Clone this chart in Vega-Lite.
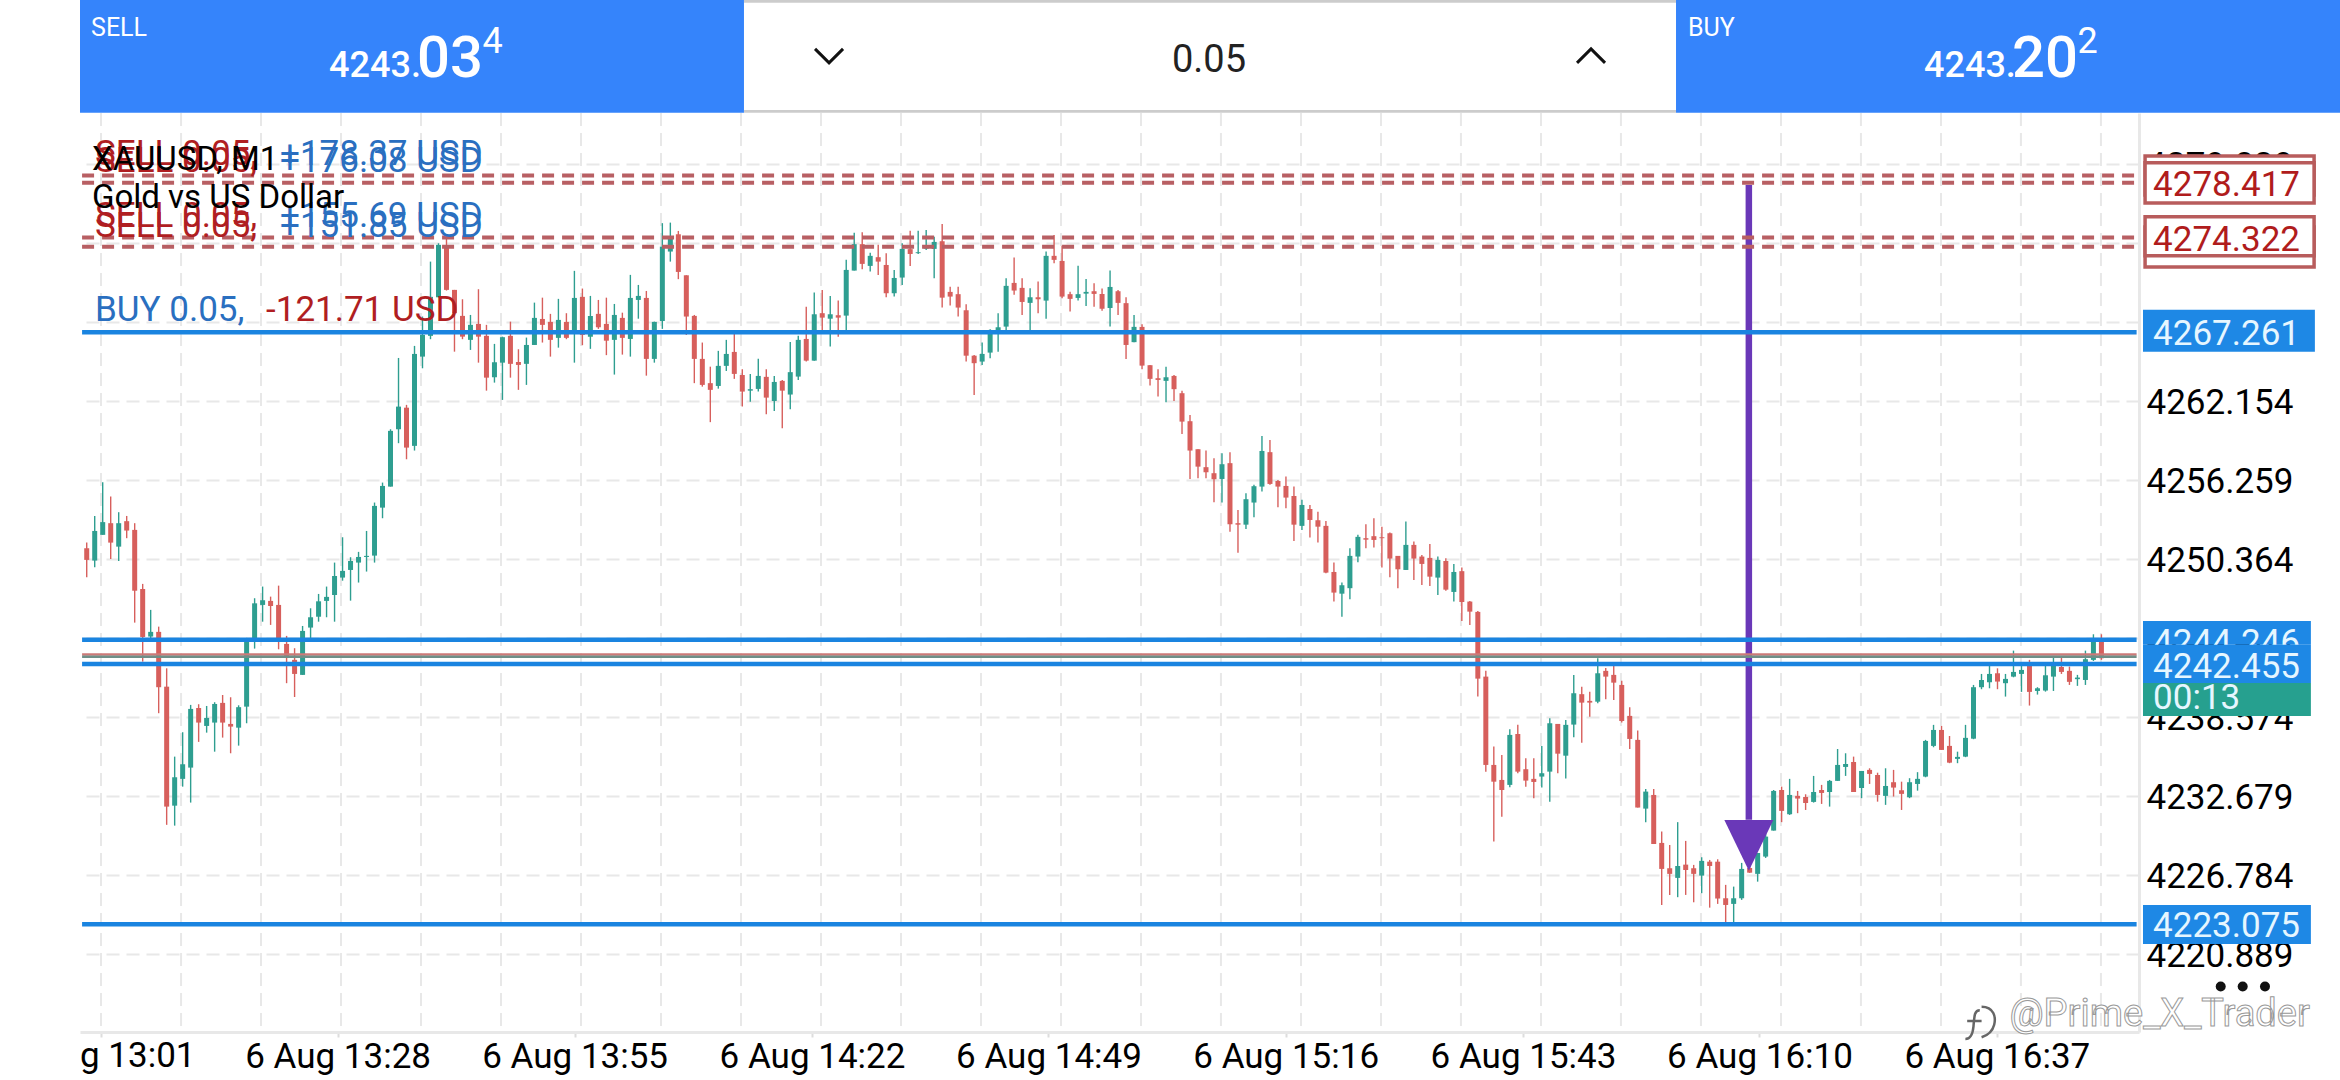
{
"$schema":"https://vega.github.io/schema/vega-lite/v6.json",
"autosize":{"type":"none"},
"padding":{"left":80,"top":113,"right":201,"bottom":48},
"width":2059,
"height":919,
"background":"#ffffff",
"config":{"view":{"stroke":null},"text":{"font":"Roboto","baseline":"alphabetic","align":"left"}},
"datasets":{
"candles":[
{"bar":0,"open":4251.14,"high":4251.56,"low":4248.98,"close":4250.27},
{"bar":1,"open":4250.22,"high":4253.55,"low":4249.72,"close":4252.43},
{"bar":2,"open":4252.14,"high":4256.07,"low":4252.14,"close":4253.09},
{"bar":3,"open":4253.01,"high":4255.0,"low":4250.34,"close":4251.56},
{"bar":4,"open":4251.26,"high":4253.83,"low":4250.19,"close":4253.01},
{"bar":5,"open":4253.16,"high":4253.55,"low":4251.89,"close":4252.46},
{"bar":6,"open":4252.51,"high":4253.01,"low":4245.59,"close":4247.97},
{"bar":7,"open":4248.10,"high":4248.48,"low":4242.68,"close":4244.52},
{"bar":8,"open":4244.55,"high":4246.54,"low":4244.40,"close":4244.90},
{"bar":9,"open":4244.90,"high":4245.29,"low":4238.83,"close":4240.77},
{"bar":10,"open":4240.81,"high":4242.18,"low":4230.50,"close":4231.86},
{"bar":11,"open":4231.93,"high":4235.59,"low":4230.44,"close":4234.05},
{"bar":12,"open":4233.93,"high":4237.41,"low":4233.35,"close":4235.02},
{"bar":13,"open":4234.77,"high":4239.45,"low":4232.16,"close":4239.15},
{"bar":14,"open":4239.22,"high":4239.50,"low":4236.69,"close":4238.13},
{"bar":15,"open":4237.88,"high":4239.37,"low":4237.38,"close":4238.48},
{"bar":16,"open":4238.13,"high":4239.65,"low":4235.96,"close":4239.52},
{"bar":17,"open":4239.60,"high":4240.19,"low":4237.01,"close":4238.13},
{"bar":18,"open":4238.03,"high":4240.02,"low":4235.84,"close":4237.83},
{"bar":19,"open":4237.75,"high":4239.42,"low":4236.41,"close":4239.28},
{"bar":20,"open":4239.32,"high":4244.45,"low":4238.08,"close":4244.30},
{"bar":21,"open":4244.35,"high":4247.41,"low":4243.65,"close":4247.03},
{"bar":22,"open":4246.91,"high":4248.28,"low":4245.66,"close":4247.26},
{"bar":23,"open":4247.21,"high":4247.53,"low":4245.42,"close":4246.83},
{"bar":24,"open":4246.91,"high":4248.35,"low":4243.60,"close":4244.43},
{"bar":25,"open":4244.0,"high":4244.60,"low":4241.07,"close":4243.05},
{"bar":26,"open":4242.81,"high":4243.68,"low":4240.04,"close":4241.76},
{"bar":27,"open":4241.69,"high":4245.34,"low":4241.69,"close":4244.97},
{"bar":28,"open":4245.22,"high":4246.66,"low":4244.43,"close":4245.99},
{"bar":29,"open":4246.03,"high":4247.73,"low":4245.66,"close":4247.18},
{"bar":30,"open":4247.21,"high":4248.28,"low":4245.99,"close":4247.51},
{"bar":31,"open":4247.66,"high":4250.07,"low":4245.66,"close":4249.07},
{"bar":32,"open":4248.95,"high":4251.96,"low":4248.72,"close":4249.45},
{"bar":33,"open":4249.52,"high":4250.47,"low":4247.23,"close":4250.19},
{"bar":34,"open":4250.07,"high":4250.87,"low":4248.58,"close":4250.49},
{"bar":35,"open":4250.49,"high":4252.43,"low":4249.40,"close":4250.57},
{"bar":36,"open":4250.59,"high":4254.55,"low":4250.07,"close":4254.30},
{"bar":37,"open":4254.17,"high":4256.04,"low":4253.38,"close":4255.79},
{"bar":38,"open":4255.74,"high":4260.02,"low":4255.74,"close":4259.90},
{"bar":39,"open":4260.02,"high":4265.34,"low":4258.98,"close":4261.71},
{"bar":40,"open":4261.63,"high":4261.84,"low":4257.78,"close":4258.65},
{"bar":41,"open":4258.78,"high":4266.24,"low":4258.43,"close":4265.64},
{"bar":42,"open":4265.44,"high":4268.43,"low":4264.57,"close":4267.06},
{"bar":43,"open":4266.99,"high":4272.53,"low":4266.74,"close":4269.90},
{"bar":44,"open":4269.87,"high":4273.90,"low":4269.87,"close":4273.78},
{"bar":45,"open":4273.70,"high":4274.28,"low":4270.37,"close":4270.42},
{"bar":46,"open":4270.42,"high":4270.42,"low":4265.81,"close":4268.68},
{"bar":47,"open":4268.48,"high":4269.72,"low":4266.74,"close":4266.93},
{"bar":48,"open":4266.69,"high":4268.55,"low":4265.94,"close":4267.81},
{"bar":49,"open":4267.88,"high":4270.47,"low":4264.99,"close":4266.93},
{"bar":50,"open":4266.99,"high":4267.81,"low":4262.90,"close":4263.87},
{"bar":51,"open":4263.90,"high":4266.39,"low":4263.50,"close":4265.02},
{"bar":52,"open":4264.99,"high":4266.93,"low":4262.21,"close":4266.89},
{"bar":53,"open":4266.99,"high":4268.05,"low":4263.87,"close":4264.90},
{"bar":54,"open":4265.04,"high":4265.99,"low":4262.96,"close":4264.82},
{"bar":55,"open":4264.90,"high":4266.86,"low":4263.33,"close":4266.31},
{"bar":56,"open":4266.31,"high":4269.47,"low":4266.31,"close":4268.33},
{"bar":57,"open":4268.25,"high":4269.84,"low":4266.49,"close":4267.81},
{"bar":58,"open":4268.03,"high":4268.63,"low":4265.44,"close":4266.69},
{"bar":59,"open":4266.84,"high":4269.75,"low":4266.11,"close":4268.18},
{"bar":60,"open":4268.03,"high":4268.68,"low":4266.74,"close":4266.84},
{"bar":61,"open":4267.19,"high":4271.84,"low":4264.99,"close":4269.82},
{"bar":62,"open":4269.90,"high":4270.52,"low":4266.29,"close":4267.06},
{"bar":63,"open":4266.93,"high":4269.97,"low":4266.02,"close":4268.48},
{"bar":64,"open":4268.63,"high":4269.67,"low":4267.51,"close":4267.63},
{"bar":65,"open":4267.88,"high":4269.84,"low":4265.55,"close":4266.63},
{"bar":66,"open":4266.69,"high":4269.37,"low":4264.10,"close":4268.55},
{"bar":67,"open":4268.33,"high":4268.72,"low":4265.59,"close":4266.84},
{"bar":68,"open":4266.76,"high":4271.54,"low":4265.44,"close":4269.82},
{"bar":69,"open":4269.67,"high":4270.79,"low":4268.27,"close":4269.97},
{"bar":70,"open":4269.82,"high":4270.34,"low":4264.02,"close":4265.27},
{"bar":71,"open":4265.27,"high":4268.05,"low":4264.99,"close":4268.03},
{"bar":72,"open":4268.10,"high":4275.40,"low":4267.51,"close":4273.65},
{"bar":73,"open":4273.28,"high":4275.44,"low":4272.53,"close":4274.22},
{"bar":74,"open":4274.57,"high":4274.82,"low":4271.22,"close":4271.76},
{"bar":75,"open":4271.51,"high":4271.51,"low":4267.06,"close":4268.43},
{"bar":76,"open":4268.48,"high":4268.55,"low":4263.46,"close":4265.27},
{"bar":77,"open":4265.27,"high":4266.49,"low":4263.20,"close":4263.33},
{"bar":78,"open":4263.46,"high":4264.69,"low":4260.55,"close":4262.96},
{"bar":79,"open":4263.25,"high":4265.87,"low":4263.05,"close":4264.75},
{"bar":80,"open":4264.75,"high":4266.69,"low":4264.37,"close":4265.64},
{"bar":81,"open":4265.79,"high":4267.13,"low":4263.78,"close":4264.15},
{"bar":82,"open":4264.07,"high":4264.50,"low":4261.71,"close":4262.83},
{"bar":83,"open":4262.90,"high":4264.15,"low":4262.08,"close":4263.01},
{"bar":84,"open":4263.03,"high":4265.29,"low":4262.83,"close":4264.0},
{"bar":85,"open":4263.93,"high":4264.50,"low":4261.14,"close":4262.38},
{"bar":86,"open":4262.13,"high":4264.0,"low":4261.39,"close":4263.55},
{"bar":87,"open":4263.63,"high":4263.70,"low":4260.10,"close":4262.90},
{"bar":88,"open":4262.61,"high":4266.54,"low":4261.52,"close":4264.28},
{"bar":89,"open":4263.95,"high":4266.99,"low":4263.70,"close":4266.69},
{"bar":90,"open":4266.76,"high":4269.17,"low":4265.07,"close":4265.14},
{"bar":91,"open":4265.14,"high":4270.22,"low":4265.14,"close":4268.60},
{"bar":92,"open":4268.68,"high":4270.42,"low":4267.21,"close":4268.35},
{"bar":93,"open":4268.27,"high":4269.97,"low":4266.19,"close":4268.60},
{"bar":94,"open":4268.53,"high":4269.62,"low":4266.93,"close":4268.35},
{"bar":95,"open":4268.50,"high":4272.66,"low":4267.43,"close":4271.91},
{"bar":96,"open":4271.86,"high":4274.69,"low":4271.86,"close":4273.83},
{"bar":97,"open":4273.83,"high":4274.72,"low":4271.96,"close":4272.36},
{"bar":98,"open":4272.21,"high":4273.20,"low":4271.79,"close":4272.96},
{"bar":99,"open":4272.86,"high":4273.78,"low":4271.54,"close":4272.53},
{"bar":100,"open":4272.28,"high":4273.16,"low":4269.87,"close":4270.17},
{"bar":101,"open":4270.17,"high":4271.91,"low":4269.92,"close":4271.31},
{"bar":102,"open":4271.34,"high":4273.90,"low":4270.79,"close":4273.48},
{"bar":103,"open":4273.46,"high":4274.84,"low":4272.21,"close":4273.10},
{"bar":104,"open":4273.16,"high":4274.84,"low":4273.10,"close":4273.23},
{"bar":105,"open":4273.50,"high":4274.89,"low":4273.40,"close":4273.60},
{"bar":106,"open":4273.48,"high":4274.39,"low":4271.29,"close":4274.0},
{"bar":107,"open":4274.05,"high":4275.34,"low":4269.10,"close":4269.84},
{"bar":108,"open":4270.27,"high":4270.66,"low":4269.25,"close":4269.92},
{"bar":109,"open":4270.10,"high":4270.66,"low":4268.43,"close":4269.10},
{"bar":110,"open":4268.90,"high":4269.35,"low":4265.07,"close":4265.51},
{"bar":111,"open":4265.51,"high":4265.57,"low":4262.58,"close":4264.95},
{"bar":112,"open":4265.07,"high":4266.49,"low":4264.82,"close":4265.64},
{"bar":113,"open":4265.74,"high":4267.49,"low":4265.32,"close":4267.43},
{"bar":114,"open":4267.13,"high":4268.68,"low":4265.81,"close":4267.63},
{"bar":115,"open":4267.68,"high":4271.29,"low":4267.43,"close":4270.72},
{"bar":116,"open":4270.94,"high":4272.83,"low":4270.05,"close":4270.37},
{"bar":117,"open":4270.57,"high":4271.29,"low":4268.55,"close":4269.52},
{"bar":118,"open":4269.45,"high":4270.55,"low":4267.43,"close":4269.87},
{"bar":119,"open":4269.87,"high":4271.04,"low":4268.68,"close":4269.72},
{"bar":120,"open":4269.62,"high":4273.28,"low":4268.27,"close":4272.96},
{"bar":121,"open":4272.96,"high":4274.52,"low":4272.41,"close":4272.66},
{"bar":122,"open":4272.58,"high":4273.72,"low":4269.80,"close":4269.92},
{"bar":123,"open":4270.10,"high":4270.29,"low":4268.80,"close":4269.75},
{"bar":124,"open":4269.82,"high":4272.23,"low":4269.62,"close":4270.10},
{"bar":125,"open":4270.14,"high":4271.24,"low":4269.22,"close":4270.27},
{"bar":126,"open":4270.32,"high":4270.92,"low":4269.17,"close":4270.12},
{"bar":127,"open":4270.12,"high":4270.52,"low":4268.87,"close":4269.02},
{"bar":128,"open":4269.07,"high":4271.86,"low":4267.68,"close":4270.64},
{"bar":129,"open":4270.32,"high":4270.42,"low":4268.55,"close":4269.45},
{"bar":130,"open":4269.43,"high":4269.87,"low":4265.27,"close":4266.31},
{"bar":131,"open":4266.52,"high":4268.55,"low":4266.52,"close":4267.66},
{"bar":132,"open":4267.66,"high":4267.86,"low":4264.50,"close":4264.77},
{"bar":133,"open":4264.80,"high":4264.82,"low":4263.28,"close":4263.78},
{"bar":134,"open":4263.83,"high":4264.50,"low":4262.46,"close":4263.70},
{"bar":135,"open":4263.63,"high":4264.69,"low":4262.04,"close":4263.90},
{"bar":136,"open":4264.0,"high":4264.07,"low":4262.13,"close":4263.01},
{"bar":137,"open":4262.71,"high":4262.90,"low":4259.67,"close":4260.59},
{"bar":138,"open":4260.62,"high":4261.09,"low":4256.31,"close":4258.43},
{"bar":139,"open":4258.53,"high":4258.53,"low":4256.36,"close":4257.23},
{"bar":140,"open":4257.19,"high":4258.43,"low":4256.36,"close":4256.81},
{"bar":141,"open":4256.74,"high":4257.86,"low":4254.57,"close":4256.29},
{"bar":142,"open":4256.31,"high":4258.23,"low":4254.55,"close":4257.41},
{"bar":143,"open":4257.49,"high":4258.31,"low":4252.38,"close":4252.93},
{"bar":144,"open":4253.01,"high":4254.0,"low":4250.81,"close":4252.90},
{"bar":145,"open":4252.90,"high":4255.25,"low":4252.58,"close":4254.80},
{"bar":146,"open":4254.55,"high":4255.87,"low":4253.46,"close":4255.77},
{"bar":147,"open":4255.74,"high":4259.52,"low":4255.37,"close":4258.40},
{"bar":148,"open":4258.31,"high":4259.22,"low":4255.87,"close":4255.94},
{"bar":149,"open":4256.16,"high":4256.24,"low":4254.20,"close":4255.74},
{"bar":150,"open":4255.79,"high":4256.49,"low":4254.13,"close":4254.92},
{"bar":151,"open":4255.04,"high":4255.74,"low":4251.69,"close":4252.90},
{"bar":152,"open":4252.81,"high":4254.75,"low":4252.51,"close":4254.37},
{"bar":153,"open":4254.07,"high":4254.37,"low":4251.94,"close":4253.25},
{"bar":154,"open":4253.23,"high":4253.87,"low":4251.56,"close":4252.75},
{"bar":155,"open":4252.81,"high":4253.18,"low":4249.28,"close":4249.32},
{"bar":156,"open":4249.37,"high":4250.07,"low":4247.16,"close":4247.83},
{"bar":157,"open":4247.75,"high":4248.58,"low":4246.03,"close":4248.38},
{"bar":158,"open":4248.16,"high":4251.14,"low":4247.34,"close":4250.57},
{"bar":159,"open":4250.52,"high":4252.14,"low":4250.10,"close":4251.99},
{"bar":160,"open":4251.89,"high":4252.93,"low":4251.14,"close":4251.78},
{"bar":161,"open":4252.04,"high":4253.38,"low":4251.19,"close":4251.76},
{"bar":162,"open":4251.96,"high":4252.75,"low":4249.70,"close":4251.89},
{"bar":163,"open":4252.26,"high":4252.31,"low":4248.98,"close":4250.37},
{"bar":164,"open":4250.57,"high":4250.57,"low":4248.16,"close":4249.57},
{"bar":165,"open":4249.52,"high":4253.13,"low":4249.52,"close":4251.39},
{"bar":166,"open":4251.39,"high":4251.64,"low":4248.77,"close":4250.37},
{"bar":167,"open":4250.52,"high":4250.64,"low":4248.40,"close":4249.97},
{"bar":168,"open":4250.42,"high":4251.46,"low":4248.33,"close":4249.02},
{"bar":169,"open":4248.95,"high":4250.52,"low":4247.66,"close":4250.27},
{"bar":170,"open":4250.19,"high":4250.39,"low":4247.97,"close":4248.05},
{"bar":171,"open":4247.88,"high":4249.97,"low":4247.16,"close":4249.37},
{"bar":172,"open":4249.43,"high":4249.70,"low":4245.72,"close":4247.13},
{"bar":173,"open":4247.16,"high":4247.21,"low":4245.42,"close":4246.41},
{"bar":174,"open":4246.39,"high":4246.46,"low":4240.07,"close":4241.41},
{"bar":175,"open":4241.56,"high":4241.99,"low":4234.47,"close":4234.97},
{"bar":176,"open":4234.97,"high":4236.34,"low":4229.25,"close":4233.72},
{"bar":177,"open":4233.85,"high":4235.72,"low":4231.11,"close":4233.10},
{"bar":178,"open":4233.48,"high":4237.63,"low":4233.31,"close":4237.21},
{"bar":179,"open":4237.28,"high":4237.96,"low":4234.35,"close":4234.47},
{"bar":180,"open":4234.65,"high":4235.47,"low":4233.35,"close":4233.80},
{"bar":181,"open":4233.93,"high":4235.47,"low":4232.49,"close":4233.70},
{"bar":182,"open":4234.10,"high":4236.39,"low":4233.28,"close":4234.35},
{"bar":183,"open":4234.47,"high":4238.45,"low":4232.23,"close":4238.08},
{"bar":184,"open":4238.03,"high":4238.03,"low":4234.35,"close":4235.81},
{"bar":185,"open":4235.66,"high":4238.33,"low":4233.95,"close":4237.96},
{"bar":186,"open":4237.98,"high":4241.69,"low":4237.04,"close":4240.32},
{"bar":187,"open":4240.25,"high":4240.81,"low":4236.63,"close":4239.62},
{"bar":188,"open":4239.75,"high":4240.44,"low":4238.57,"close":4239.62},
{"bar":189,"open":4239.69,"high":4242.93,"low":4239.57,"close":4241.81},
{"bar":190,"open":4241.99,"high":4242.21,"low":4239.87,"close":4241.56},
{"bar":191,"open":4241.69,"high":4242.43,"low":4239.82,"close":4241.11},
{"bar":192,"open":4240.94,"high":4241.26,"low":4238.13,"close":4238.25},
{"bar":193,"open":4238.63,"high":4239.28,"low":4236.16,"close":4236.91},
{"bar":194,"open":4236.84,"high":4237.53,"low":4231.79,"close":4231.79},
{"bar":195,"open":4231.71,"high":4233.18,"low":4230.70,"close":4232.98},
{"bar":196,"open":4232.73,"high":4233.18,"low":4229.07,"close":4229.07},
{"bar":197,"open":4229.15,"high":4230.0,"low":4224.52,"close":4227.21},
{"bar":198,"open":4227.26,"high":4229.0,"low":4225.27,"close":4226.84},
{"bar":199,"open":4226.54,"high":4230.70,"low":4225.10,"close":4227.43},
{"bar":200,"open":4227.53,"high":4229.30,"low":4225.27,"close":4227.13},
{"bar":201,"open":4227.26,"high":4227.51,"low":4224.72,"close":4226.84},
{"bar":202,"open":4226.71,"high":4228.08,"low":4225.40,"close":4227.81},
{"bar":203,"open":4227.75,"high":4227.88,"low":4224.32,"close":4227.43},
{"bar":204,"open":4227.75,"high":4227.93,"low":4224.60,"close":4225.0},
{"bar":205,"open":4225.02,"high":4226.02,"low":4223.20,"close":4224.52},
{"bar":206,"open":4224.60,"high":4225.89,"low":4223.20,"close":4225.02},
{"bar":207,"open":4225.02,"high":4227.66,"low":4224.90,"close":4227.21},
{"bar":208,"open":4227.28,"high":4227.88,"low":4226.91,"close":4226.93},
{"bar":209,"open":4226.84,"high":4228.40,"low":4226.26,"close":4228.40},
{"bar":210,"open":4228.13,"high":4230.12,"low":4228.03,"close":4229.62},
{"bar":211,"open":4230.07,"high":4233.10,"low":4230.07,"close":4233.03},
{"bar":212,"open":4233.10,"high":4233.35,"low":4230.70,"close":4231.54},
{"bar":213,"open":4231.29,"high":4233.93,"low":4231.24,"close":4232.73},
{"bar":214,"open":4232.66,"high":4233.03,"low":4231.37,"close":4232.46},
{"bar":215,"open":4232.58,"high":4232.78,"low":4231.61,"close":4232.13},
{"bar":216,"open":4232.21,"high":4234.15,"low":4232.16,"close":4232.95},
{"bar":217,"open":4233.10,"high":4233.48,"low":4232.06,"close":4232.88},
{"bar":218,"open":4232.95,"high":4233.85,"low":4231.86,"close":4233.78},
{"bar":219,"open":4233.78,"high":4236.16,"low":4233.78,"close":4234.97},
{"bar":220,"open":4234.82,"high":4235.84,"low":4234.15,"close":4235.04},
{"bar":221,"open":4235.19,"high":4235.59,"low":4232.95,"close":4232.95},
{"bar":222,"open":4233.25,"high":4234.52,"low":4232.49,"close":4234.52},
{"bar":223,"open":4234.60,"high":4234.72,"low":4233.55,"close":4234.30},
{"bar":224,"open":4234.22,"high":4234.39,"low":4232.23,"close":4232.73},
{"bar":225,"open":4232.66,"high":4234.72,"low":4231.99,"close":4233.40},
{"bar":226,"open":4233.68,"high":4234.60,"low":4232.61,"close":4233.28},
{"bar":227,"open":4233.08,"high":4233.72,"low":4231.61,"close":4232.81},
{"bar":228,"open":4232.56,"high":4233.98,"low":4232.49,"close":4233.68},
{"bar":229,"open":4233.55,"high":4234.43,"low":4233.05,"close":4233.93},
{"bar":230,"open":4234.10,"high":4236.84,"low":4234.05,"close":4236.76},
{"bar":231,"open":4236.39,"high":4237.96,"low":4236.29,"close":4237.58},
{"bar":232,"open":4237.58,"high":4237.88,"low":4236.09,"close":4236.09},
{"bar":233,"open":4236.39,"high":4237.13,"low":4235.10,"close":4235.14},
{"bar":234,"open":4235.42,"high":4235.96,"low":4235.10,"close":4235.57},
{"bar":235,"open":4235.59,"high":4237.96,"low":4235.55,"close":4236.99},
{"bar":236,"open":4236.93,"high":4240.94,"low":4236.89,"close":4240.77},
{"bar":237,"open":4240.77,"high":4241.76,"low":4240.62,"close":4241.31},
{"bar":238,"open":4241.14,"high":4242.36,"low":4240.69,"close":4241.76},
{"bar":239,"open":4241.81,"high":4242.18,"low":4240.62,"close":4241.19},
{"bar":240,"open":4241.07,"high":4241.76,"low":4240.07,"close":4241.39},
{"bar":241,"open":4241.56,"high":4243.50,"low":4241.51,"close":4241.91},
{"bar":242,"open":4241.76,"high":4242.43,"low":4240.42,"close":4242.06},
{"bar":243,"open":4242.36,"high":4242.81,"low":4239.40,"close":4240.42},
{"bar":244,"open":4240.49,"high":4240.77,"low":4240.22,"close":4240.69},
{"bar":245,"open":4240.52,"high":4242.43,"low":4240.44,"close":4241.66},
{"bar":246,"open":4241.56,"high":4243.05,"low":4240.49,"close":4242.43},
{"bar":247,"open":4242.28,"high":4243.05,"low":4241.76,"close":4241.91},
{"bar":248,"open":4241.99,"high":4242.31,"low":4240.94,"close":4241.17},
{"bar":249,"open":4241.37,"high":4241.69,"low":4240.87,"close":4241.49},
{"bar":250,"open":4241.31,"high":4243.50,"low":4240.94,"close":4242.86},
{"bar":251,"open":4242.81,"high":4244.72,"low":4242.73,"close":4244.20},
{"bar":252,"open":4244.15,"high":4244.72,"low":4242.81,"close":4242.93}
],
"vgrid":[{"bar":1.79},{"bar":11.8},{"bar":21.8},{"bar":31.81},{"bar":41.81},{"bar":51.82},{"bar":61.83},{"bar":71.83},{"bar":81.84},{"bar":91.84},{"bar":101.85},{"bar":111.86},{"bar":121.86},{"bar":131.87},{"bar":141.87},{"bar":151.88},{"bar":161.89},{"bar":171.89},{"bar":181.9},{"bar":191.9},{"bar":201.91},{"bar":211.92},{"bar":221.92},{"bar":231.93},{"bar":241.93},{"bar":251.94}]
},
"encoding":{
"x":{"field":"bar","type":"quantitative","title":null,"scale":{"domain":[-0.84,256.7],"nice":false,"zero":false,"padding":0},
"axis":{"title":null,"grid":false,"values":[1.75,31.38,61.03,90.72,120.3,149.97,179.65,209.23,238.92],
"labelExpr":"['','6 Aug 13:28','6 Aug 13:55','6 Aug 14:22','6 Aug 14:49','6 Aug 15:16','6 Aug 15:43','6 Aug 16:10','6 Aug 16:37'][indexof([1.75,31.38,61.03,90.72,120.3,149.97,179.65,209.23,238.92],datum.value)]",
"labelFont":"Roboto","labelFontSize":35,"labelColor":"#000000","labelPadding":2,"labelLimit":400,"labelOverlap":false,"labelFlush":false,
"tickColor":"#dddddd","tickSize":5,"tickWidth":2,"domainColor":"#e8e8e8","domainWidth":3}}
},
"layer":[
{"data":{"name":"vgrid"},"mark":{"type":"rule","color":"#e8e8e8","strokeWidth":2,"strokeDash":[13,7]},"encoding":{}},
{"data":{"name":"candles"},"mark":{"type":"rule","strokeWidth":1.4},
"encoding":{"y":{"field":"high","type":"quantitative","title":null,"scale":{"domain":[4215.04,4283.62],"nice":false,"zero":false},
"axis":{"title":null,"orient":"right","values":[4220.889,4226.784,4232.679,4238.574,4244.469,4250.364,4256.259,4262.154,4268.049,4273.944,4279.839],"format":".3f","grid":true,"gridColor":"#e8e8e8","gridWidth":2,"gridDash":[13,7],"ticks":false,"labelFont":"Roboto","labelFontSize":35,"labelColor":"#000000","labelPadding":7,"labelOffset":2,"labelOverlap":false,"domainColor":"#e8e8e8","domainWidth":3}},
"y2":{"field":"low"},
"color":{"condition":{"test":"datum.open < datum.close","value":"#2e9e90"},"value":"#d75f5c"}}},
{"data":{"name":"candles"},"mark":{"type":"bar","size":5,"orient":"vertical"},
"encoding":{"y":{"field":"open","type":"quantitative","title":null},"y2":{"field":"close"},
"color":{"condition":{"test":"datum.open < datum.close","value":"#2e9e90"},"value":"#d75f5c"}}},
{"data":{"values":[{"bar":207.9,"price":4278.25,"price2":4230.87}]},"mark":{"type":"rule","color":"#6a38b8","strokeWidth":6.5},
"encoding":{"y":{"field":"price","type":"quantitative","title":null},"y2":{"field":"price2"}}},
{"data":{"values":[{"bar":207.9,"price":4229.04}]},"mark":{"type":"point","shape":"M-1,-1L1,-1L0,1.08Z","filled":true,"size":2401,"color":"#6a38b8","opacity":1,"strokeWidth":0},
"encoding":{"y":{"field":"price","type":"quantitative","title":null}}},
{"data":{"values":[{"bar":-0.58,"bar2":256.4,"price":4278.96},{"bar":-0.58,"bar2":256.4,"price":4278.417},{"bar":-0.58,"bar2":256.4,"price":4274.322},{"bar":-0.58,"bar2":256.4,"price":4273.63}]},"mark":{"type":"rule","color":"#b85f63","strokeWidth":4,"strokeDash":[12,8]},
"encoding":{"x2":{"field":"bar2"},"y":{"field":"price","type":"quantitative","title":null}}},
{"data":{"values":[{"bar":-0.58,"bar2":256.4,"price":4243.202}]},"mark":{"type":"rule","color":"#cc7a78","strokeWidth":2.5},
"encoding":{"x2":{"field":"bar2"},"y":{"field":"price","type":"quantitative","title":null}}},
{"data":{"values":[{"bar":-0.58,"bar2":256.4,"price":4243.034}]},"mark":{"type":"rule","color":"#6f8f88","strokeWidth":2.5},
"encoding":{"x2":{"field":"bar2"},"y":{"field":"price","type":"quantitative","title":null}}},
{"data":{"values":[{"bar":-0.58,"bar2":256.4,"price":4267.261},{"bar":-0.58,"bar2":256.4,"price":4244.32},{"bar":-0.58,"bar2":256.4,"price":4242.5},{"bar":-0.58,"bar2":256.4,"price":4223.075}]},"mark":{"type":"rule","color":"#1a84e0","strokeWidth":4.5},
"encoding":{"x2":{"field":"bar2"},"y":{"field":"price","type":"quantitative","title":null}}},
{"data":{"values":[{"bar":-0.84,"bar2":82.21,"price":4292.06,"price2":4283.63},{"bar":198.79,"bar2":281.85,"price":4292.06,"price2":4283.63}]},"mark":{"type":"rect","color":"#3584fb"},
"encoding":{"x2":{"field":"bar2"},"y":{"field":"price","type":"quantitative","title":null},"y2":{"field":"price2"}}},
{"data":{"values":[{"bar":82.21,"bar2":198.79,"price":4292.06,"price2":4291.84},{"bar":82.21,"bar2":198.79,"price":4283.85,"price2":4283.63}]},"mark":{"type":"rect","color":"#cccccc"},
"encoding":{"x2":{"field":"bar2"},"y":{"field":"price","type":"quantitative","title":null},"y2":{"field":"price2"}}},
{"data":{"values":[{"bar":0.54,"price":4289.37,"label":"SELL"},{"bar":200.29,"price":4289.37,"label":"BUY"}]},"mark":{"type":"text","fontSize":25,"color":"#ffffff"},
"encoding":{"y":{"field":"price","type":"quantitative","title":null},"text":{"field":"label"}}},
{"data":{"values":[{"bar":30.31,"price":4286.31,"label":"4243."},{"bar":229.81,"price":4286.31,"label":"4243."}]},"mark":{"type":"text","fontSize":36,"fontWeight":500,"color":"#ffffff"},
"encoding":{"y":{"field":"price","type":"quantitative","title":null},"text":{"field":"label"}}},
{"data":{"values":[{"bar":41.32,"price":4286.31,"label":"03"},{"bar":240.81,"price":4286.31,"label":"20"}]},"mark":{"type":"text","fontSize":58,"fontWeight":500,"color":"#ffffff"},
"encoding":{"y":{"field":"price","type":"quantitative","title":null},"text":{"field":"label"}}},
{"data":{"values":[{"bar":49.5,"price":4288.1,"label":"4"},{"bar":249,"price":4288.1,"label":"2"}]},"mark":{"type":"text","fontSize":36,"color":"#ffffff"},
"encoding":{"y":{"field":"price","type":"quantitative","title":null},"text":{"field":"label"}}},
{"data":{"values":[{"bar":140.38,"price":4287.73,"label":"0.05"}]},"mark":{"type":"text","fontSize":38,"align":"center","baseline":"middle","dy":3,"color":"#222222"},
"encoding":{"y":{"field":"price","type":"quantitative","title":null},"text":{"field":"label"}}},
{"data":{"values":[{"bar":92.85,"price":4287.88}]},"mark":{"type":"point","shape":"M-1,-0.5L0,0.5L1,-0.5","filled":false,"size":784,"color":"#111111","opacity":1,"strokeWidth":3},
"encoding":{"y":{"field":"price","type":"quantitative","title":null}}},
{"data":{"values":[{"bar":188.16,"price":4287.88}]},"mark":{"type":"point","shape":"M-1,0.5L0,-0.5L1,0.5","filled":false,"size":784,"color":"#111111","opacity":1,"strokeWidth":3},
"encoding":{"y":{"field":"price","type":"quantitative","title":null}}},
{"data":{"values":[{"bar":1.04,"price":4279.75,"label":"SELL 0.05,"},{"bar":1.04,"price":4279.19,"label":"SELL 0.05,"},{"bar":1.04,"price":4275.08,"label":"SELL 0.05,"},{"bar":1.04,"price":4274.4,"label":"SELL 0.05,"},{"bar":22.43,"price":4268.1,"label":"-121.71 USD"}]},"mark":{"type":"text","fontSize":35,"color":"#b01e22"},
"encoding":{"y":{"field":"price","type":"quantitative","title":null},"text":{"field":"label"}}},
{"data":{"values":[{"bar":24.18,"price":4279.75,"label":"+178.37 USD"},{"bar":24.18,"price":4279.19,"label":"+176.08 USD"},{"bar":24.18,"price":4275.08,"label":"+155.69 USD"},{"bar":24.18,"price":4274.4,"label":"+151.85 USD"},{"bar":1.04,"price":4268.1,"label":"BUY 0.05,"}]},"mark":{"type":"text","fontSize":35,"color":"#2a6fc0"},
"encoding":{"y":{"field":"price","type":"quantitative","title":null},"text":{"field":"label"}}},
{"data":{"values":[{"bar":0.66,"price":4279.37,"label":"XAUUSD, M1"},{"bar":0.66,"price":4276.54,"label":"Gold vs US Dollar"}]},"mark":{"type":"text","fontSize":33,"color":"#000000"},
"encoding":{"y":{"field":"price","type":"quantitative","title":null},"text":{"field":"label"}}},
{"data":{"values":[{"bar":-0.84,"price":4212.46,"label":"g 13:01"}]},"mark":{"type":"text","fontSize":35,"color":"#000000"},
"encoding":{"y":{"field":"price","type":"quantitative","title":null},"text":{"field":"label"}}},
{"data":{"values":[{"bar":257.46,"bar2":278.6,"price":4280.42,"price2":4277.51},{"bar":257.46,"bar2":278.6,"price":4279.9,"price2":4276.91},{"bar":257.46,"bar2":278.6,"price":4275.12,"price2":4272.13},{"bar":257.46,"bar2":278.6,"price":4275.87,"price2":4272.96}]},"mark":{"type":"rect","fill":"#ffffff","stroke":"#b85c5c","strokeWidth":3.5},
"encoding":{"x2":{"field":"bar2"},"y":{"field":"price","type":"quantitative","title":null},"y2":{"field":"price2"}}},
{"data":{"values":[{"bar":258.46,"price":4278.417},{"bar":258.46,"price":4274.322}]},"mark":{"type":"text","fontSize":35,"baseline":"middle","dy":2,"color":"#b01c1c"},
"encoding":{"y":{"field":"price","type":"quantitative","title":null},"text":{"field":"price","type":"quantitative","format":".3f"}}},
{"data":{"values":[{"bar":257.2,"bar2":278.7,"price":4268.93,"price2":4265.81},{"bar":257.2,"bar2":278.2,"price":4245.72,"price2":4243.93},{"bar":257.2,"bar2":278.2,"price":4224.52,"price2":4221.61}]},"mark":{"type":"rect","color":"#1e88e5"},
"encoding":{"x2":{"field":"bar2"},"y":{"field":"price","type":"quantitative","title":null},"y2":{"field":"price2"}}},
{"data":{"values":[{"bar":258.46,"price":4267.261},{"bar":258.46,"price":4244.246},{"bar":258.46,"price":4223.075}]},"mark":{"type":"text","fontSize":35,"baseline":"middle","dy":2,"color":"#e6f6ff"},
"encoding":{"y":{"field":"price","type":"quantitative","title":null},"text":{"field":"price","type":"quantitative","format":".3f"}}},
{"data":{"values":[{"bar":257.2,"bar2":278.2,"price":4243.93,"price2":4241.09}]},"mark":{"type":"rect","color":"#1e88e5"},
"encoding":{"x2":{"field":"bar2"},"y":{"field":"price","type":"quantitative","title":null},"y2":{"field":"price2"}}},
{"data":{"values":[{"bar":258.46,"price":4242.455}]},"mark":{"type":"text","fontSize":35,"baseline":"middle","dy":2,"color":"#e6f6ff"},
"encoding":{"y":{"field":"price","type":"quantitative","title":null},"text":{"field":"price","type":"quantitative","format":".3f"}}},
{"data":{"values":[{"bar":257.2,"bar2":278.2,"price":4241.09,"price2":4238.63}]},"mark":{"type":"rect","color":"#26a08f"},
"encoding":{"x2":{"field":"bar2"},"y":{"field":"price","type":"quantitative","title":null},"y2":{"field":"price2"}}},
{"data":{"values":[{"bar":258.46,"price":4240.12,"label":"00:13"}]},"mark":{"type":"text","fontSize":35,"baseline":"middle","dy":2,"color":"#e6f6ff"},
"encoding":{"y":{"field":"price","type":"quantitative","title":null},"text":{"field":"label"}}},
{"data":{"values":[{"bar":266.92,"price":4218.43},{"bar":269.67,"price":4218.43},{"bar":272.46,"price":4218.43}]},"mark":{"type":"point","shape":"circle","filled":true,"size":100,"color":"#111111","opacity":1},
"encoding":{"y":{"field":"price","type":"quantitative","title":null}}},
{"data":{"values":[{"bar":240.5,"price":4215.49,"label":"@Prime_X_Trader"}]},"mark":{"type":"text","fontSize":38,"fill":"#ffffff","stroke":"#999999","strokeWidth":1},
"encoding":{"y":{"field":"price","type":"quantitative","title":null},"text":{"field":"label"}}},
{"data":{"values":[{"bar":236.56,"price":4215.72}]},"mark":{"type":"point","shape":"M0.1,-0.7C-0.2,-0.7,-0.2,-0.4,-0.25,0.2C-0.3,0.7,-0.5,0.9,-0.7,0.9M-0.6,-0.1L0.2,-0.1M0.2,-0.9C0.9,-0.9,1,-0.3,0.9,0.1C0.8,0.5,0.5,0.7,0.2,0.8","filled":false,"size":1296,"color":"#666666","opacity":1,"strokeWidth":2.5},
"encoding":{"y":{"field":"price","type":"quantitative","title":null}}}
]
}
